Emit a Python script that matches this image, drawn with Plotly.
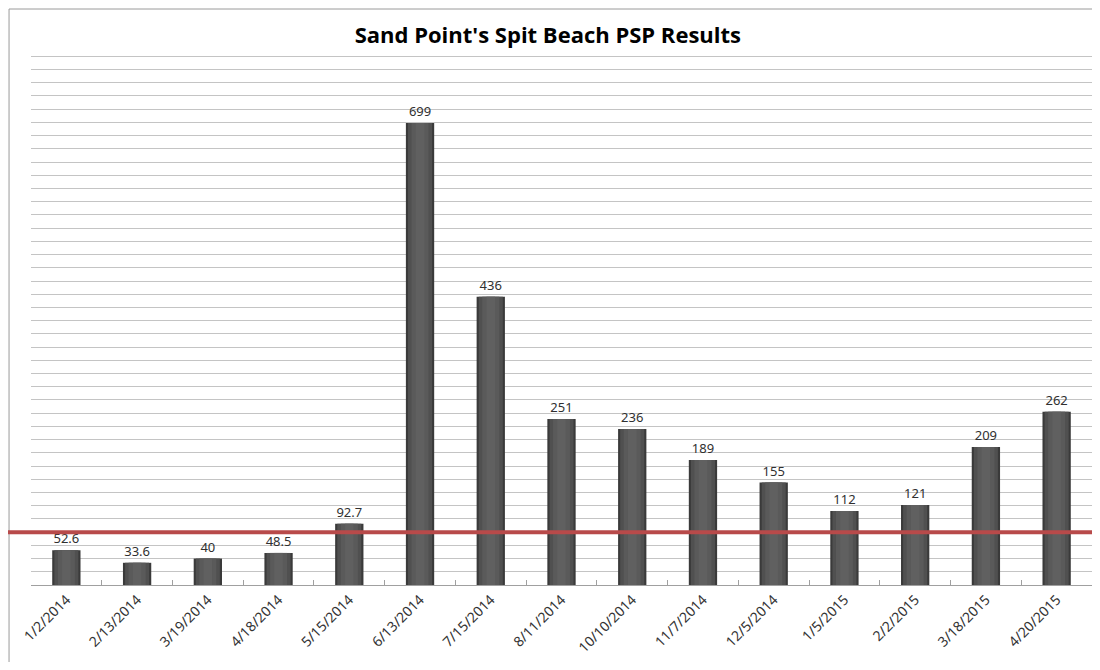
import plotly.graph_objects as go

dates = ["1/2/2014", "2/13/2014", "3/19/2014", "4/18/2014", "5/15/2014", "6/13/2014",
         "7/15/2014", "8/11/2014", "10/10/2014", "11/7/2014", "12/5/2014", "1/5/2015",
         "2/2/2015", "3/18/2015", "4/20/2015"]
psp = [52.6, 33.6, 40, 48.5, 92.7, 699, 436, 251, 236, 189, 155, 112, 121, 209, 262]
labels = ["52.6", "33.6", "40", "48.5", "92.7", "699", "436", "251", "236", "189",
          "155", "112", "121", "209", "262"]
limit = 80

fig = go.Figure()
# layered bars to imitate the cylinder shading
layers = [(0.40, "#3a3a3a"), (0.34, "#505050"), (0.24, "#5a5a5a"), (0.12, "#606060")]
for i, (w, c) in enumerate(layers):
    fig.add_trace(go.Bar(
        x=dates, y=psp, width=w,
        text=labels if i == 0 else None,
        textposition="outside" if i == 0 else "none",
        textfont=dict(family="Noto Sans", size=13, color="#303030"),
        marker=dict(color=c, line=dict(width=0)),
        cliponaxis=False, hoverinfo="skip" if i else None,
    ))

fig.add_shape(type="line", xref="paper", yref="y", x0=-0.0217, x1=1.05, y0=limit, y1=limit,
              line=dict(color="#b84a4a", width=4), layer="above")
# outer chart frame (top and left edges)
fig.add_shape(type="line", xref="paper", yref="paper", x0=-0.0207, x1=1.05, y0=1.0827, y1=1.0827,
              line=dict(color="#9a9a9a", width=1), layer="below")
fig.add_shape(type="line", xref="paper", yref="paper", x0=-0.0207, x1=-0.0207, y0=-0.3, y1=1.0827,
              line=dict(color="#9a9a9a", width=1), layer="below")

fig.update_layout(
    width=1084, height=654,
    margin=dict(l=23, r=0, t=45, b=77),
    paper_bgcolor="white", plot_bgcolor="white",
    barmode="overlay", showlegend=False,
    title=dict(text="<b>Sand Point's Spit Beach PSP Results</b>", x=0.498, xanchor="center",
               xref="container", y=0.959, yanchor="middle",
               font=dict(family="Open Sans", size=22, color="#000000")),
    font=dict(family="Noto Sans", color="#333333"),
)
fig.update_xaxes(type="category", tickangle=-45, tickfont=dict(size=14, color="#333333"),
                 showline=True, linecolor="#a0a0a0", linewidth=1,
                 ticks="inside", tickson="boundaries", ticklen=5, tickcolor="#a0a0a0",
                 showgrid=False)
fig.update_yaxes(range=[0, 805], dtick=20, showticklabels=False, showgrid=True,
                 gridcolor="#c4c4c4", gridwidth=1, zeroline=False, showline=False)

fig.write_html("out.html")
